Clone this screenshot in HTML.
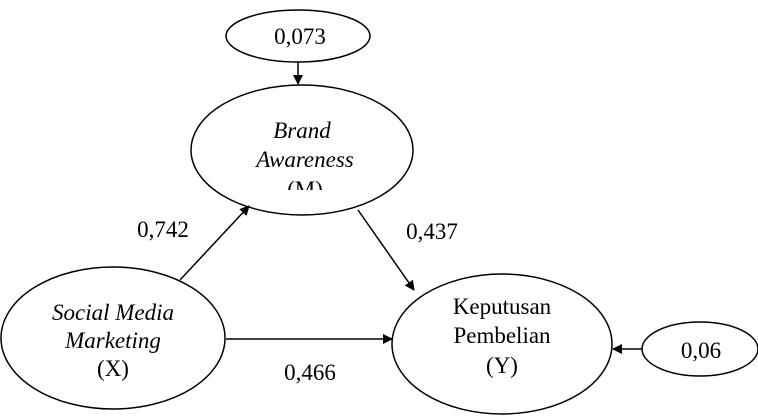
<!DOCTYPE html>
<html><head><meta charset="utf-8"><style>
html,body{margin:0;padding:0;background:#fff;}
svg{display:block;}
text{font-family:"Liberation Serif",serif;font-size:23px;fill:#000;}
</style></head><body>
<svg width="758" height="416" viewBox="0 0 758 416" xmlns="http://www.w3.org/2000/svg">
<defs>
<marker id="a" markerWidth="10" markerHeight="10" refX="9" refY="5" orient="auto" markerUnits="userSpaceOnUse">
<path d="M0,0 L10,5 L0,10 z" fill="#000"/></marker>
<clipPath id="c"><rect x="0" y="0" width="758" height="190"/></clipPath>
</defs>
<g fill="none" stroke="#000" stroke-width="1.5">
<ellipse cx="298" cy="36" rx="72" ry="26"/>
<ellipse cx="302" cy="150" rx="111" ry="65"/>
<ellipse cx="113" cy="338" rx="112" ry="71"/>
<ellipse cx="502" cy="344" rx="110" ry="70"/>
<ellipse cx="700" cy="349" rx="58" ry="27"/>
<line x1="298" y1="62" x2="298" y2="84" marker-end="url(#a)"/>
<line x1="180" y1="280" x2="249" y2="206" marker-end="url(#a)"/>
<line x1="358" y1="210" x2="414" y2="290" marker-end="url(#a)"/>
<line x1="226" y1="339" x2="392" y2="339" marker-end="url(#a)"/>
<line x1="642" y1="349" x2="613" y2="349" marker-end="url(#a)"/>
</g>
<text x="300" y="44" text-anchor="middle">0,073</text>
<text x="302" y="138" text-anchor="middle" font-style="italic">Brand</text>
<text x="305" y="167" text-anchor="middle" font-style="italic">Awareness</text>
<text x="305" y="197" text-anchor="middle" clip-path="url(#c)">(M)</text>
<text x="113" y="320" text-anchor="middle" font-style="italic">Social Media</text>
<text x="113" y="348" text-anchor="middle" font-style="italic">Marketing</text>
<text x="113" y="376" text-anchor="middle">(X)</text>
<text x="502" y="314" text-anchor="middle">Keputusan</text>
<text x="502" y="343" text-anchor="middle">Pembelian</text>
<text x="502" y="373" text-anchor="middle">(Y)</text>
<text x="701" y="358" text-anchor="middle">0,06</text>
<text x="163" y="237" text-anchor="middle">0,742</text>
<text x="432" y="239" text-anchor="middle">0,437</text>
<text x="310" y="380" text-anchor="middle">0,466</text>
</svg>
</body></html>
